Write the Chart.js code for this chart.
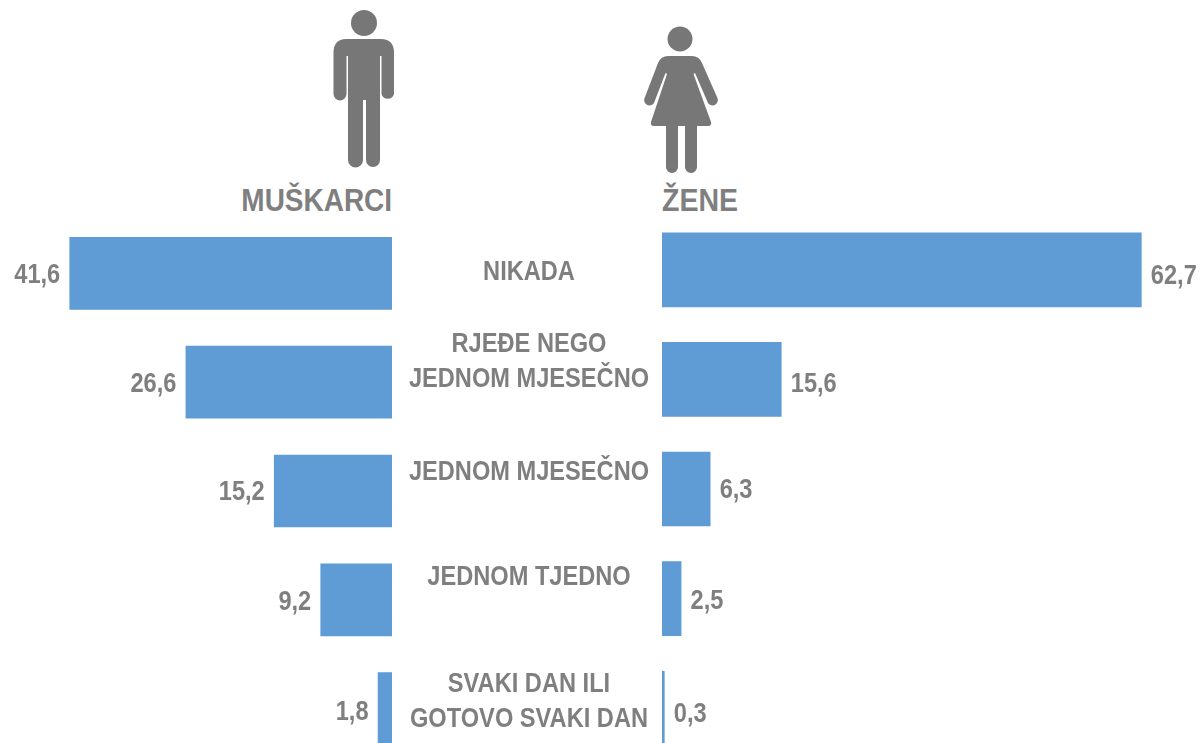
<!DOCTYPE html>
<html><head><meta charset="utf-8">
<script src="https://cdn.jsdelivr.net/npm/chart.js@4"></script>
<style>
html,body{margin:0;padding:0;background:#fff;overflow:hidden;width:1204px;height:743px}
.box{position:absolute}
.head{position:absolute;top:182px;font:bold 31px "Liberation Sans",sans-serif;color:#7f7f7f;line-height:38px;white-space:nowrap}
svg{position:absolute;left:0;top:0}
</style></head><body>
<svg width="1204" height="230" fill="#777777">
<circle cx="364" cy="23" r="13"/>
<path d="M346 39H381Q394 39 394 53V94A6.5 6.5 0 0 1 381.500 94V56H380V160A7 7 0 0 1 366 160V100H363V160A7.500 7.500 0 0 1 348 160V56H346.500V94A6.500 6.500 0 0 1 333.500 94V53Q333.500 39 346 39Z"/>
<circle cx="680" cy="39" r="12.500"/>
<path d="M668 56H692Q699 56 702 63L717 97A5 5 0 0 1 708 103L695 73L693.500 74L711 122Q712 126 708 126H697V167A6 6 0 0 1 685 167V126H678V167A6 6 0 0 1 666 167V126H654Q650 126 651 122L667 74L665.500 73L654 103A5 5 0 0 1 645 97L658 63Q661 56 668 56Z"/>
</svg>
<div class="head" style="right:812px;transform:scaleX(.902);transform-origin:right center">MUŠKARCI</div>
<div class="head" style="left:662px;transform:scaleX(.92);transform-origin:left center">ŽENE</div>
<div class="box" style="left:0;top:219px;width:392px;height:544px"><canvas id="m"></canvas></div>
<div class="box" style="left:392px;top:215px;width:812px;height:548px"><canvas id="z"></canvas></div>
<script>
const categories=[["NIKADA"],["RJEĐE NEGO","JEDNOM MJESEČNO"],["JEDNOM MJESEČNO"],["JEDNOM TJEDNO"],["SVAKI DAN ILI","GOTOVO SVAKI DAN"]];
const muskarci=[41.6,26.6,15.2,9.2,1.8];
const zene=[62.7,15.6,6.3,2.5,0.3];
const catLabelY=[273,362,473,578,702];
const muskarciLabelShift=[2,2,2,3,4];
const zeneLabelShift=[7,5,2,3,6];
const barColor="#5f9bd5",textColor="#7f7f7f",font='bold 27px "Liberation Sans",sans-serif',squeeze=0.875;
function put(g,t,x,y){g.save();g.translate(x,y);g.scale(squeeze,1);g.fillText(t,0,0);g.restore();}
const valueLabels=(dir,shift)=>({id:"values",afterDatasetsDraw(c){
  const g=c.ctx,x=c.scales.x,y=c.scales.y,d=c.data.datasets[0].data;
  g.save();g.font=font;g.fillStyle=textColor;g.textBaseline="middle";g.textAlign=dir<0?"right":"left";
  d.forEach((v,i)=>put(g,String(v).replace(".",","),x.getPixelForValue(v)+dir*9.5,y.getPixelForValue(i)+shift[i]));
  g.restore();}});
const catLabels={id:"cats",afterDraw(c){
  const g=c.ctx,cx=137;
  g.save();g.font=font;g.fillStyle=textColor;g.textBaseline="middle";g.textAlign="center";
  categories.forEach((l,i)=>l.forEach((t,j)=>put(g,t,cx,catLabelY[i]-215+(j-(l.length-1)/2)*35)));
  g.restore();}};
function make(id,data,max,rev,thick,plugins,pad){
  return new Chart(document.getElementById(id),{type:"bar",
    data:{labels:categories.map(l=>l.join(" ")),datasets:[{data,backgroundColor:barColor,barThickness:thick,borderWidth:0}]},
    options:{indexAxis:"y",responsive:true,maintainAspectRatio:false,animation:false,
      layout:{padding:pad},
      plugins:{legend:{display:false},tooltip:{enabled:false}},
      scales:{x:{display:false,min:0,max,reverse:rev},y:{display:false}}},
    plugins});
}
make("m",muskarci,50.6,true,72,[valueLabels(-1,muskarciLabelShift)],{left:0,right:0,top:0,bottom:0});
make("z",zene,70.9,false,74,[valueLabels(1,zeneLabelShift),catLabels],{left:270,right:0,top:0,bottom:0});
</script>
</body></html>
